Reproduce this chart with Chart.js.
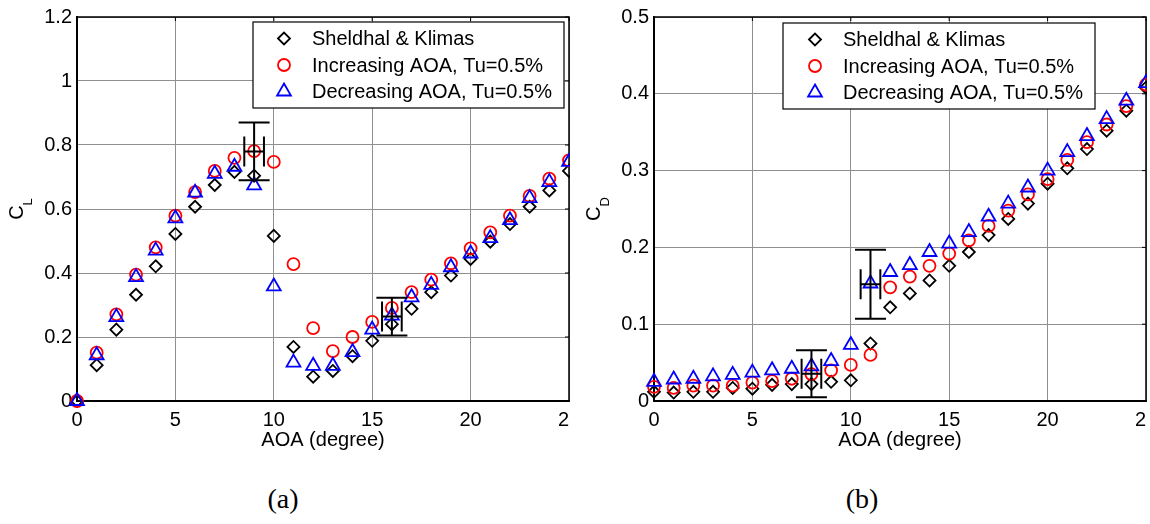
<!DOCTYPE html>
<html>
<head>
<meta charset="utf-8">
<script src="https://cdn.jsdelivr.net/npm/chart.js@4.4.0/dist/chart.umd.min.js"></script>
<style>
  html, body { margin: 0; padding: 0; background: #fff; overflow: hidden; }
  body { width: 1150px; height: 524px; position: relative; }
  .panel { position: absolute; top: 0; height: 470px; overflow: hidden; }
  .panel canvas { display: block; }
  #leftPanel { left: 0; width: 570px; }
  #rightPanel { left: 577px; width: 570px; }
  .caption { position: absolute; top: 484px; width: 80px; height: 30px; line-height: 30px; text-align: center;
             font-family: "Liberation Serif", "Times New Roman", serif; font-size: 28px; color: #000; }
</style>
</head>
<body>
<div class="panel" id="leftPanel"><canvas id="clChart" width="620" height="470"></canvas></div>
<div class="panel" id="rightPanel"><canvas id="cdChart" width="620" height="470"></canvas></div>
<div class="caption" style="left:243px">(a)</div>
<div class="caption" style="left:822px">(b)</div>

<script>
// angle of attack (degree)
const aoa = [0, 1, 2, 3, 4, 5, 6, 7, 8, 9, 10, 11, 12, 13, 14, 15, 16, 17, 18, 19, 20, 21, 22, 23, 24, 25];
const seriesNames = ['Sheldhal & Klimas', 'Increasing AOA, Tu=0.5%', 'Decreasing AOA, Tu=0.5%'];

// lift coefficient
const clSheldahl = [0, 0.112, 0.223, 0.332, 0.421, 0.522, 0.607, 0.675, 0.716, 0.704, 0.516, 0.169, 0.076,
  0.094, 0.140, 0.188, 0.240, 0.288, 0.340, 0.392, 0.444, 0.498, 0.553, 0.607, 0.658, 0.719];
const clIncreasing = [0, 0.151, 0.271, 0.395, 0.480, 0.579, 0.653, 0.719, 0.760, 0.781, 0.747, 0.428, 0.228,
  0.156, 0.200, 0.247, 0.291, 0.340, 0.379, 0.430, 0.477, 0.527, 0.579, 0.641, 0.695, 0.752];
const clDecreasing = [0, 0.143, 0.262, 0.387, 0.470, 0.571, 0.651, 0.710, 0.732, 0.674, 0.358, 0.120, 0.110,
  0.110, 0.153, 0.223, 0.267, 0.324, 0.363, 0.418, 0.461, 0.509, 0.565, 0.634, 0.684, 0.747];

// drag coefficient
const cdSheldahl = [0.012, 0.011, 0.012, 0.012, 0.017, 0.016, 0.021, 0.022, 0.022, 0.025, 0.027, 0.075, 0.122,
  0.140, 0.157, 0.176, 0.194, 0.216, 0.237, 0.257, 0.283, 0.303, 0.328, 0.352, 0.378, 0.408];
const cdIncreasing = [0.0185, 0.017, 0.020, 0.020, 0.020, 0.024, 0.026, 0.029, 0.035, 0.040, 0.047, 0.060, 0.148,
  0.162, 0.176, 0.192, 0.209, 0.228, 0.248, 0.269, 0.289, 0.314, 0.337, 0.360, 0.384, 0.412];
const cdDecreasing = [0.025, 0.028, 0.029, 0.032, 0.034, 0.037, 0.040, 0.042, 0.045, 0.052, 0.073, 0.153, 0.168,
  0.177, 0.194, 0.205, 0.220, 0.240, 0.257, 0.278, 0.300, 0.324, 0.345, 0.367, 0.391, 0.414];

// error bars (centre, half range in x and y)
const clErrX = [9, 16];
const clErrY = [0.78, 0.264];
const clErrDx = [0.5, 0.5];
const clErrDy = [0.09, 0.059];
const cdErrX = [8, 11];
const cdErrY = [0.0355, 0.152];
const cdErrDx = [0.5, 0.5];
const cdErrDy = [0.0305, 0.045];

// axis ticks
const xTicks = [0, 5, 10, 15, 20, 25];
const clTicks = [0, 0.2, 0.4, 0.6, 0.8, 1, 1.2];
const cdTicks = [0, 0.1, 0.2, 0.3, 0.4, 0.5];

Chart.defaults.font.family = '"Liberation Sans", Arial, sans-serif';
Chart.defaults.font.size = 20;
Chart.defaults.color = '#000';

const markerStyles = [
  { pointStyle: 'rectRot', pointRadius: 6, borderColor: '#000000', order: 2 },
  { pointStyle: 'circle', pointRadius: 6, borderColor: '#ff0000', order: 1 },
  { pointStyle: 'triangle', pointRadius: 8, borderColor: '#0000ff', order: 0 }
];

function makeDatasets(lists) {
  return lists.map((vals, k) => ({
    label: seriesNames[k],
    data: aoa.map((x, i) => ({ x: x, y: vals[i] })),
    showLine: false,
    pointStyle: markerStyles[k].pointStyle,
    pointRadius: markerStyles[k].pointRadius,
    pointHoverRadius: markerStyles[k].pointRadius,
    borderColor: markerStyles[k].borderColor,
    backgroundColor: 'rgba(0,0,0,0)',
    borderWidth: 1.8,
    order: markerStyles[k].order,
    clip: false
  }));
}

// top/right box lines with small inner ticks (matlab "box on")
const frameBox = {
  id: 'frameBox',
  beforeDatasetsDraw(chart) {
    const { ctx, chartArea: a, scales } = chart;
    ctx.save();
    ctx.strokeStyle = '#000';
    ctx.lineWidth = 1.5;
    ctx.beginPath();
    ctx.moveTo(a.left, a.top);
    ctx.lineTo(a.right, a.top);
    ctx.lineTo(a.right, a.bottom);
    ctx.stroke();
    ctx.lineWidth = 1;
    ctx.beginPath();
    scales.x.ticks.forEach(t => {
      const px = scales.x.getPixelForValue(t.value);
      ctx.moveTo(px, a.top); ctx.lineTo(px, a.top + 4);
    });
    scales.y.ticks.forEach(t => {
      const py = scales.y.getPixelForValue(t.value);
      ctx.moveTo(a.right, py); ctx.lineTo(a.right - 4, py);
    });
    ctx.stroke();
    ctx.restore();
  }
};

function makeErrorBars(xs, ys, dxs, dys) {
  return {
    id: 'errorBars',
    afterDatasetsDraw(chart) {
      const { ctx, scales: { x, y } } = chart;
      const capW = 15.5, capH = 15;
      ctx.save();
      ctx.strokeStyle = '#000';
      ctx.lineWidth = 2;
      xs.forEach((xv, i) => {
        const px = x.getPixelForValue(xv);
        const py = y.getPixelForValue(ys[i]);
        const top = y.getPixelForValue(ys[i] + dys[i]);
        const bot = y.getPixelForValue(ys[i] - dys[i]);
        const l = x.getPixelForValue(xv - dxs[i]);
        const r = x.getPixelForValue(xv + dxs[i]);
        ctx.beginPath();
        ctx.moveTo(px, top); ctx.lineTo(px, bot);
        ctx.moveTo(px - capW, top); ctx.lineTo(px + capW, top);
        ctx.moveTo(px - capW, bot); ctx.lineTo(px + capW, bot);
        ctx.moveTo(l, py); ctx.lineTo(r, py);
        ctx.moveTo(l, py - capH); ctx.lineTo(l, py + capH);
        ctx.moveTo(r, py - capH); ctx.lineTo(r, py + capH);
        ctx.stroke();
      });
      ctx.restore();
    }
  };
}

function makeLegendBox(box) {
  return {
    id: 'legendBox',
    afterDraw(chart) {
      const ctx = chart.ctx;
      ctx.save();
      ctx.fillStyle = '#fff';
      ctx.fillRect(box.x, box.y, box.w, box.h);
      ctx.strokeStyle = '#000';
      ctx.lineWidth = 1.2;
      ctx.strokeRect(box.x, box.y, box.w, box.h);
      ctx.font = '20px "Liberation Sans", Arial, sans-serif';
      ctx.textBaseline = 'middle';
      chart.data.datasets.forEach((ds, i) => {
        const cy = box.y + box.first + i * box.gap;
        ctx.strokeStyle = ds.borderColor;
        ctx.fillStyle = 'rgba(0,0,0,0)';
        ctx.lineWidth = ds.borderWidth;
        Chart.helpers.drawPoint(ctx, {
          pointStyle: ds.pointStyle, radius: ds.pointRadius, borderWidth: ds.borderWidth, rotation: 0
        }, box.x + box.marker, cy);
        ctx.fillStyle = '#000';
        ctx.fillText(ds.label, box.x + box.text, cy + 1);
      });
      ctx.restore();
    }
  };
}

// rotated y title with subscript
function makeYTitle(main, sub, baseX) {
  return {
    id: 'yTitle',
    afterDraw(chart) {
      const { ctx, chartArea: a } = chart;
      ctx.save();
      ctx.fillStyle = '#000';
      ctx.font = '20px "Liberation Sans", Arial, sans-serif';
      const wMain = ctx.measureText(main).width;
      ctx.font = '13px "Liberation Sans", Arial, sans-serif';
      const wSub = ctx.measureText(sub).width;
      const total = wMain + wSub;
      const midY = (a.top + a.bottom) / 2;
      ctx.translate(baseX, midY + total / 2);
      ctx.rotate(-Math.PI / 2);
      ctx.textBaseline = 'alphabetic';
      ctx.font = '20px "Liberation Sans", Arial, sans-serif';
      ctx.fillText(main, 0, 0);
      ctx.font = '13px "Liberation Sans", Arial, sans-serif';
      ctx.fillText(sub, wMain, 9);
      ctx.restore();
    }
  };
}

function makeOptions(yMin, yMax, yStep, yTickList) {
  return {
    responsive: false,
    animation: false,
    devicePixelRatio: 1,
    events: [],
    layout: { padding: { left: 0, top: 14, right: 51, bottom: 0 } },
    plugins: { legend: { display: false }, tooltip: { enabled: false } },
    scales: {
      x: {
        type: 'linear',
        min: xTicks[0],
        max: xTicks[xTicks.length - 1],
        afterBuildTicks: s => { s.ticks = xTicks.map(v => ({ value: v })); },
        ticks: { padding: 7, maxRotation: 0, autoSkip: false, font: { size: 20 } },
        grid: { color: '#8f8f8f', lineWidth: 1, drawTicks: false },
        border: { color: '#000', width: 2 },
        title: { display: true, text: 'AOA (degree)', font: { size: 20 }, padding: { top: 0, bottom: 18 } },
        afterFit: s => { s.height = 69; }
      },
      y: {
        type: 'linear',
        min: yMin,
        max: yMax,
        afterBuildTicks: s => { s.ticks = yTickList.map(v => ({ value: v })); },
        ticks: { padding: 5, autoSkip: false, font: { size: 20 }, callback: v => String(v) },
        grid: { color: '#8f8f8f', lineWidth: 1, drawTicks: false },
        border: { color: '#000', width: 2 },
        afterFit: s => { s.width = 77; }
      }
    }
  };
}

new Chart(document.getElementById('clChart'), {
  type: 'scatter',
  data: { datasets: makeDatasets([clSheldahl, clIncreasing, clDecreasing]) },
  options: makeOptions(0, 1.2, 0.2, clTicks),
  plugins: [frameBox, makeErrorBars(clErrX, clErrY, clErrDx, clErrDy),
    makeLegendBox({ x: 253, y: 22, w: 311, h: 86, first: 16.5, gap: 26.5, marker: 31, text: 59 }),
    makeYTitle('C', 'L', 23)]
});

new Chart(document.getElementById('cdChart'), {
  type: 'scatter',
  data: { datasets: makeDatasets([cdSheldahl, cdIncreasing, cdDecreasing]) },
  options: makeOptions(0, 0.5, 0.1, cdTicks),
  plugins: [frameBox, makeErrorBars(cdErrX, cdErrY, cdErrDx, cdErrDy),
    makeLegendBox({ x: 206, y: 23, w: 312, h: 86, first: 16.5, gap: 26.5, marker: 32, text: 60 }),
    makeYTitle('C', 'D', 23)]
});
</script>
</body>
</html>
